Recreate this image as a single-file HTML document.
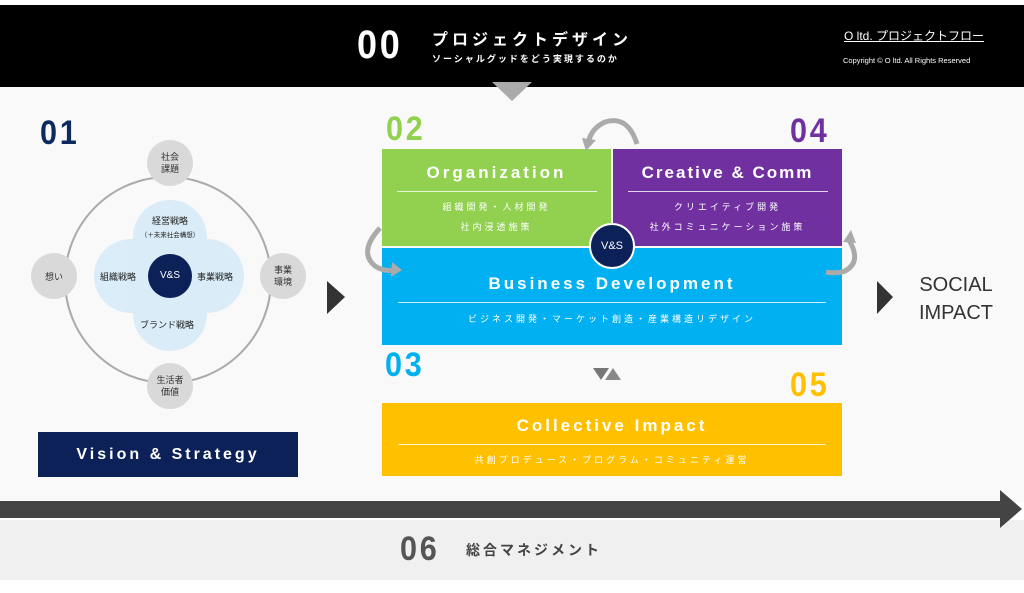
<!DOCTYPE html>
<html><head><meta charset="utf-8"><style>
*{margin:0;padding:0;box-sizing:border-box}
body{width:1024px;height:593px;background:#fff;position:relative;overflow:hidden;font-family:"Liberation Sans","Noto Sans CJK JP",sans-serif}
.a{position:absolute}
.num{font-family:"Liberation Sans",sans-serif;font-weight:bold;font-size:34px;letter-spacing:3px;line-height:1;transform:scaleX(0.9);transform-origin:left}
.box{position:absolute;color:#fff;text-align:center}
.ttl{font-weight:bold;font-size:17px;letter-spacing:3px}
.ln{height:1px;background:rgba(255,255,255,.8);margin:0 auto}
.sub{font-size:9px;letter-spacing:3px;line-height:20px}
</style></head><body>
<div class="a" style="left:0;top:5px;width:1024px;height:82px;background:#000"></div>
<div class="a" style="left:0;top:87px;width:1024px;height:415px;background:#f9f9f9"></div>
<div class="a" style="left:0;top:520px;width:1024px;height:60px;background:#f0f0f0"></div>

<div class="a num" style="left:357px;top:25px;color:#fff;font-size:40px">00</div>
<div class="a" style="left:432px;top:26px;color:#fff;font-weight:bold;font-size:16px;letter-spacing:4px">プロジェクトデザイン</div>
<div class="a" style="left:432px;top:52px;color:#fff;font-weight:bold;font-size:9px;letter-spacing:2px">ソーシャルグッドをどう実現するのか</div>
<div class="a" style="left:844px;top:27px;color:#fff;font-size:12px;text-decoration:underline">O ltd. プロジェクトフロー</div>
<div class="a" style="left:843px;top:56px;color:#fff;font-size:7.5px">Copyright © O ltd. All Rights Reserved</div>

<svg class="a" style="left:0;top:0" width="1024" height="593">
<polygon points="492,82 532,82 512,101" fill="#aaa"/>
<circle cx="168" cy="280" r="103" fill="none" stroke="#aaa" stroke-width="2"/>
<g fill="#cfe8f7" opacity=".75">
<circle cx="170" cy="237" r="37"/><circle cx="131" cy="276" r="37"/><circle cx="207" cy="276" r="37"/><circle cx="170" cy="314" r="37"/></g>
<circle cx="170" cy="276" r="22" fill="#0d2159"/>
<g fill="#d9d9d9"><circle cx="170" cy="163" r="23"/><circle cx="54" cy="276" r="23"/><circle cx="283" cy="276" r="23"/><circle cx="170" cy="386" r="23"/></g>
<polygon points="327,281 345,297 327,314" fill="#333"/>
<polygon points="877,281 893,297 877,314" fill="#333"/>
<polygon points="593,368 609,368 601,380" fill="#777"/><polygon points="605,380 621,380 613,368" fill="#888"/>
<rect x="0" y="501" width="1000" height="17" fill="#444"/>
<polygon points="1000,490 1022,509 1000,528" fill="#444"/>
</svg>

<div class="a num" style="left:40px;top:116px;color:#0d2a5e">01</div>
<div class="a" style="left:147px;top:151px;width:46px;text-align:center;font-size:9px;color:#333;line-height:12px">社会<br>課題</div>
<div class="a" style="left:31px;top:270px;width:46px;text-align:center;font-size:9px;color:#333">想い</div>
<div class="a" style="left:260px;top:264px;width:46px;text-align:center;font-size:9px;color:#333;line-height:12px">事業<br>環境</div>
<div class="a" style="left:147px;top:374px;width:46px;text-align:center;font-size:9px;color:#333;line-height:12px">生活者<br>価値</div>
<div class="a" style="left:130px;top:214px;width:80px;text-align:center;font-size:9px;color:#222">経営戦略</div>
<div class="a" style="left:120px;top:229px;width:100px;text-align:center;font-size:6.5px;color:#222">（＋未来社会構想）</div>
<div class="a" style="left:100px;top:270px;font-size:9px;color:#222">組織戦略</div>
<div class="a" style="left:197px;top:270px;font-size:9px;color:#222">事業戦略</div>
<div class="a" style="left:140px;top:318px;font-size:9px;color:#222">ブランド戦略</div>
<div class="a" style="left:148px;top:270px;width:44px;text-align:center;font-size:10px;color:#fff">V&amp;S</div>
<div class="box" style="left:38px;top:432px;width:260px;height:45px;background:#0d2159;line-height:45px"><span class="ttl" style="font-size:16px">Vision &amp; Strategy</span></div>

<div class="a num" style="left:386px;top:112px;color:#92d050">02</div>
<div class="a num" style="left:790px;top:114px;color:#7030a0">04</div>
<div class="a num" style="left:385px;top:348px;color:#00b0f0">03</div>
<div class="a num" style="left:790px;top:368px;color:#ffc000">05</div>

<div class="box" style="left:382px;top:149px;width:229px;height:97px;background:#92d050">
<div class="ttl" style="margin-top:14px">Organization</div><div class="ln" style="width:200px;margin-top:8px"></div>
<div class="sub" style="margin-top:5px">組織開発・人材開発<br>社内浸透施策</div></div>
<div class="box" style="left:613px;top:149px;width:229px;height:97px;background:#7030a0">
<div class="ttl" style="margin-top:14px;letter-spacing:2px">Creative &amp; Comm</div><div class="ln" style="width:200px;margin-top:8px"></div>
<div class="sub" style="margin-top:5px">クリエイティブ開発<br>社外コミュニケーション施策</div></div>
<div class="box" style="left:382px;top:248px;width:460px;height:97px;background:#00b0f0">
<div class="ttl" style="margin-top:26px">Business Development</div><div class="ln" style="width:428px;margin-top:8px"></div>
<div class="sub" style="margin-top:6px">ビジネス開発・マーケット創造・産業構造リデザイン</div></div>
<div class="a" style="left:589px;top:223px;width:46px;height:46px;border-radius:50%;background:#0d2159;border:2px solid #fff;color:#fff;font-size:11px;text-align:center;line-height:42px">V&amp;S</div>
<div class="box" style="left:382px;top:403px;width:460px;height:73px;background:#ffc000">
<div class="ttl" style="margin-top:13px">Collective Impact</div><div class="ln" style="width:428px;margin-top:8px"></div>
<div class="sub" style="margin-top:5px">共創プロデュース・プログラム・コミュニティ運営</div></div>

<svg class="a" style="left:0;top:0" width="1024" height="593">
<g fill="none" stroke="#aaa" stroke-width="5">
<path d="M637,144 Q628,115 605,122 Q592,128 589,140"/>
<path d="M380,228 Q358,252 375,266 Q384,272 394,270"/>
<path d="M849,240 Q862,262 845,271 Q836,274 826,272"/>
</g>
<g fill="#aaa">
<polygon points="582,138 596,140 586,151"/>
<polygon points="392,262 402,270 391,277"/>
<polygon points="843,242 851,230 856,243"/>
</g>
</svg>

<div class="a" style="left:906px;top:271px;width:100px;text-align:center;font-size:20px;color:#333;line-height:28px">SOCIAL<br>IMPACT</div>
<div class="a num" style="left:400px;top:532px;color:#555">06</div>
<div class="a" style="left:466px;top:540px;font-weight:bold;font-size:14px;letter-spacing:3px;color:#444">総合マネジメント</div>
</body></html>
